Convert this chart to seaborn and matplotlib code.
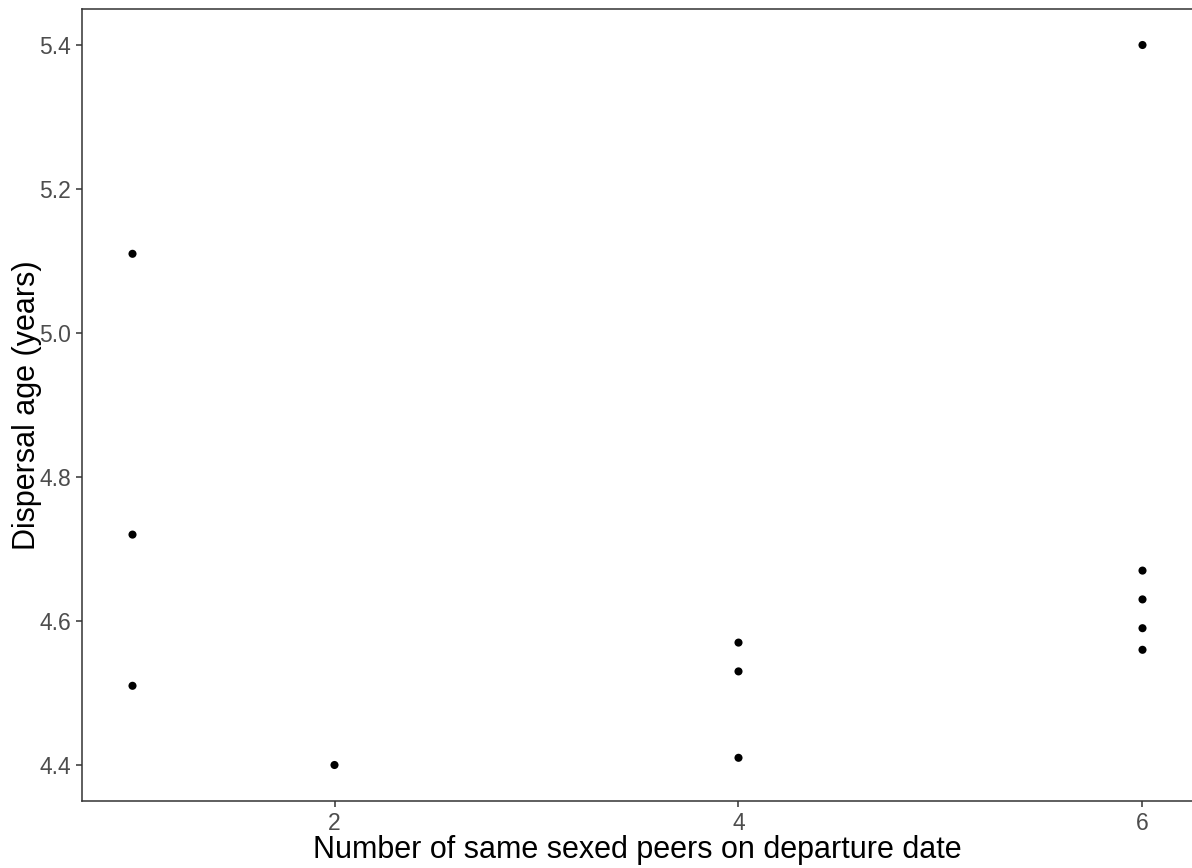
import matplotlib
matplotlib.use("Agg")
import matplotlib.pyplot as plt
import seaborn as sns
import pandas as pd

peers = [1, 1, 1, 2, 4, 4, 4, 6, 6, 6, 6, 6]
dispersal_age = [5.11, 4.72, 4.51, 4.40, 4.57, 4.53, 4.41, 5.40, 4.67, 4.63, 4.59, 4.56]
x_ticks = [2, 4, 6]
y_ticks = [4.4, 4.6, 4.8, 5.0, 5.2, 5.4]

df = pd.DataFrame({"peers": peers, "age": dispersal_age})

sns.set_theme(style="white")
plt.rcParams["font.family"] = ["Liberation Sans", "DejaVu Sans"]

fig = plt.figure(figsize=(11.92, 8.68), dpi=100)
ax = fig.add_axes([82 / 1192, 1 - 801 / 868, 1111 / 1192, 792 / 868])

sns.scatterplot(data=df, x="peers", y="age", ax=ax, color="black", s=34,
                edgecolor="none", linewidth=0, legend=False)

ax.set_xlim(0.75, 6.25)
ax.set_ylim(4.35, 5.45)
ax.set_xticks(x_ticks)
ax.set_yticks(y_ticks)
ax.set_xticklabels([str(v) for v in x_ticks])
ax.set_yticklabels([f"{v:.1f}" for v in y_ticks])

for sp in ax.spines.values():
    sp.set_color("#333333")
    sp.set_linewidth(1.1)
    sp.set_visible(True)

ax.tick_params(axis="both", which="major", length=4, width=1.1, color="#333333",
               labelcolor="#4D4D4D", labelsize=16.5, pad=4, bottom=True, left=True)

ax.set_xlabel("Number of same sexed peers on departure date", fontsize=22,
              color="black")
ax.set_ylabel("Dispersal age (years)", fontsize=22, color="black")
ax.xaxis.set_label_coords(0.5, -0.043)
ax.yaxis.set_label_coords(-0.036, 0.5)

fig.savefig("out.png", dpi=100)
